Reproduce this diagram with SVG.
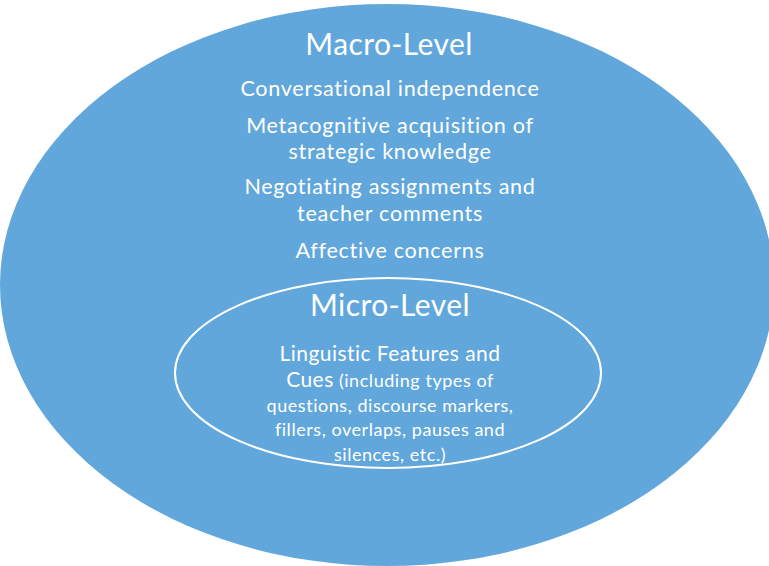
<svg xmlns="http://www.w3.org/2000/svg" width="769" height="566" viewBox="0 0 769 566">
<style>
.t{font-family:Lato,"Open Sans","Liberation Sans",sans-serif;fill:#ffffff;text-anchor:middle}
.h{font-size:30px;letter-spacing:0.4px}
.b{font-size:21.6px;letter-spacing:0.7px}
.s{font-size:18px;letter-spacing:0.55px}
.m{font-size:21px;letter-spacing:0.45px}
</style>
<rect width="769" height="566" fill="#ffffff"/>
<g id="macro">
<ellipse cx="387" cy="285" rx="387" ry="281" fill="#61a7db"/>
<text class="t h" x="389" y="55">Macro-Level</text>
<text class="t b" x="390" y="96">Conversational independence</text>
<text class="t b" x="390" y="133">Metacognitive acquisition of<tspan x="390" y="159">strategic knowledge</tspan></text>
<text class="t b" x="390" y="194">Negotiating assignments and<tspan x="390" y="221">teacher comments</tspan></text>
<text class="t b" x="390" y="258">Affective concerns</text>
</g>
<g id="micro">
<ellipse cx="388" cy="373" rx="213" ry="95" fill="none" stroke="#ffffff" stroke-width="2"/>
<text class="t h" x="390" y="316">Micro-Level</text>
<text class="t s" x="390" y="361"><tspan class="m">Linguistic Features and</tspan><tspan x="390" y="387"><tspan class="m">Cues</tspan> (including types of</tspan><tspan x="390" y="412">questions, discourse markers,</tspan><tspan x="390" y="436">fillers, overlaps, pauses and</tspan><tspan x="390" y="461">silences, etc.)</tspan></text>
</g>
</svg>
